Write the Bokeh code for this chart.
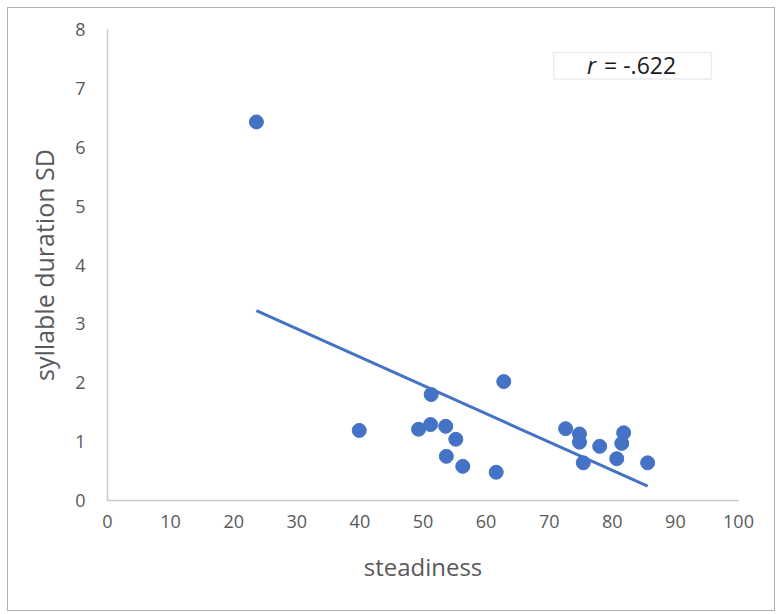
import numpy as np
from bokeh.plotting import figure
from bokeh.models import Range1d, BoxAnnotation, Label, SingleIntervalTicker
from bokeh.embed import file_html
from bokeh.resources import INLINE

steadiness = [23.6, 39.9, 49.3, 51.2, 53.6, 51.3, 55.2, 53.7, 56.3, 61.6, 62.8,
              72.6, 74.8, 74.8, 78.0, 75.4, 81.8, 81.5, 80.7, 85.6]
syllable_sd = [6.43, 1.19, 1.21, 1.29, 1.26, 1.80, 1.04, 0.75, 0.58, 0.48, 2.02,
               1.22, 1.13, 0.99, 0.92, 0.64, 1.15, 0.97, 0.71, 0.64]
r_text = "= -.622"

x = np.array(steadiness)
y = np.array(syllable_sd)
slope, intercept = np.polyfit(x, y, 1)
xs = [x.min(), x.max()]
ys = [slope * v + intercept for v in xs]

FONT = "Open Sans"
GRAY = "#595959"
AX = "#c9c9c9"
BLUE = "#4472C4"

p = figure(width=768, height=604, output_backend="svg", toolbar_location=None,
           x_range=Range1d(0, 100), y_range=Range1d(0, 8),
           min_border_left=99, min_border_right=38, min_border_top=21, min_border_bottom=112)
p.styles = {"border": "1px solid #b0b0b0", "margin-left": "7px", "margin-top": "7px"}
p.outline_line_color = None
p.xgrid.visible = False
p.ygrid.visible = False

p.xaxis.ticker = SingleIntervalTicker(interval=10)
p.yaxis.ticker = SingleIntervalTicker(interval=1)
for ax in (p.xaxis[0], p.yaxis[0]):
    ax.axis_line_color = AX
    ax.axis_line_width = 1.5
    ax.major_tick_line_color = None
    ax.minor_tick_line_color = None
    ax.major_label_text_color = GRAY
    ax.major_label_text_font = FONT
    ax.major_label_text_font_size = "18px"
    ax.axis_label_text_color = GRAY
    ax.axis_label_text_font = FONT
    ax.axis_label_text_font_size = "24px"
    ax.axis_label_text_font_style = "normal"
p.yaxis.axis_label_text_font_size = "25px"
p.xaxis.major_label_standoff = 8
p.yaxis.major_label_standoff = 16
p.xaxis.axis_label = "steadiness"
p.yaxis.axis_label = "syllable duration SD"
p.xaxis.axis_label_standoff = 19
p.yaxis.axis_label_standoff = 11

p.line(xs, ys, line_color=BLUE, line_width=3)
p.scatter(steadiness, syllable_sd, size=14, fill_color=BLUE, line_color=BLUE)

p.add_layout(BoxAnnotation(left=70.7, right=95.7, bottom=7.16, top=7.61,
                           fill_color="white", fill_alpha=1,
                           line_color="#bfbfbf", line_width=1.5))
p.add_layout(Label(x=76.0, y=7.39, text="r", text_font=FONT, text_font_style="italic",
                   text_font_size="23px", text_color="#1a1a1a",
                   text_align="left", text_baseline="middle"))
p.add_layout(Label(x=78.7, y=7.39, text=r_text, text_font=FONT,
                   text_font_size="23px", text_color="#1a1a1a",
                   text_align="left", text_baseline="middle"))

open("out.html", "w").write(file_html(p, INLINE))
